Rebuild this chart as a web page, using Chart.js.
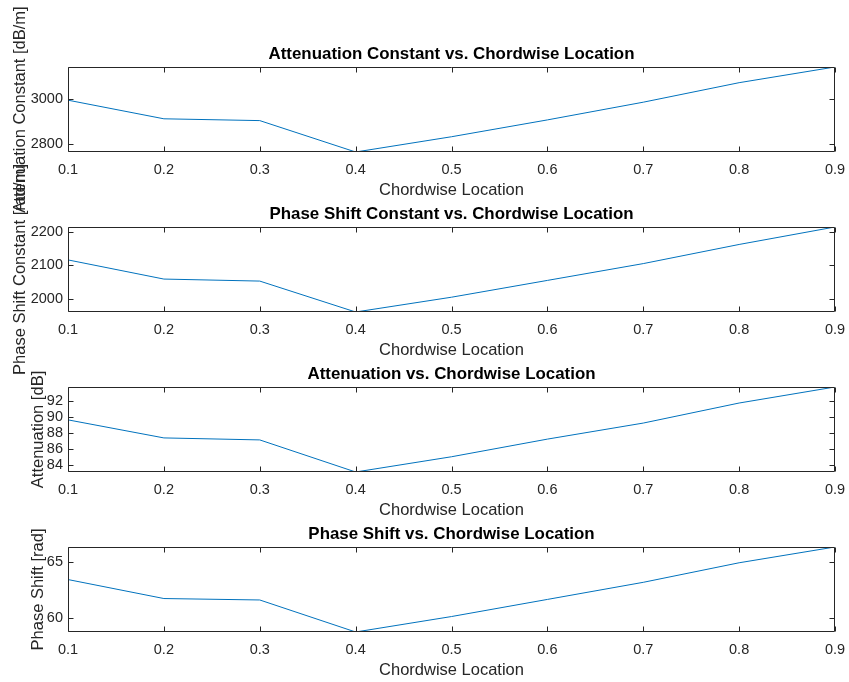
<!DOCTYPE html>
<html>
<head>
<meta charset="utf-8">
<script src="https://cdn.jsdelivr.net/npm/chart.js@4"></script>
<style>
  body { margin: 0; background: #fff; }
  #wrap { position: relative; width: 849px; height: 682px; background: #fff; }
  #wrap canvas { position: absolute; left: 0; top: 0; }
</style>
</head>
<body>
<div id="wrap">
  <canvas id="c0" width="849" height="682"></canvas>
  <canvas id="c1" width="849" height="682"></canvas>
  <canvas id="c2" width="849" height="682"></canvas>
  <canvas id="c3" width="849" height="682"></canvas>
</div>
<script>
// x positions along the chord
const chordwise = [0.1, 0.2, 0.3, 0.4, 0.5, 0.6, 0.7, 0.8, 0.9];
const xTicks = [0.1, 0.2, 0.3, 0.4, 0.5, 0.6, 0.7, 0.8, 0.9];

// series
const attenuationConstant = [2995, 2912, 2904, 2764, 2832, 2907, 2986, 3073, 3143];
const phaseShiftConstant = [2116, 2059, 2053, 1961, 2005, 2055, 2105, 2162, 2214];
const attenuation = [89.6, 87.35, 87.1, 83.1, 85.0, 87.2, 89.2, 91.7, 93.7];
const phaseShift = [63.45, 61.73, 61.6, 58.7, 60.1, 61.65, 63.2, 64.97, 66.4];

// y tick values per subplot
const yTicksAttConst = [2800, 3000];
const yTicksPhaseConst = [2000, 2100, 2200];
const yTicksAtt = [84, 86, 88, 90, 92];
const yTicksPhase = [60, 65];

const titles = [
    'Attenuation Constant vs. Chordwise Location',
    'Phase Shift Constant vs. Chordwise Location',
    'Attenuation vs. Chordwise Location',
    'Phase Shift vs. Chordwise Location'
];
const yLabels = [
    'Attenuation Constant [dB/m]',
    'Phase Shift Constant [rad/m]',
    'Attenuation [dB]',
    'Phase Shift [rad]'
];
const xLabel = 'Chordwise Location';

const AXIS_COLOR = '#262626';
const LINE_COLOR = '#0072BD';
const PLOT_LEFT = 68, PLOT_RIGHT = 835;
const X_AXIS_H = 48;

Chart.defaults.font.family = '"Liberation Sans", Arial, Helvetica, sans-serif';
Chart.defaults.color = AXIS_COLOR;

// matlab-like box with inward ticks on all four sides
const boxPlugin = {
    id: 'matlabBox',
    afterDraw(chart) {
        const {ctx, chartArea: a, scales} = chart;
        const tl = 5;
        ctx.save();
        ctx.strokeStyle = AXIS_COLOR;
        ctx.lineWidth = 1;
        const L = Math.round(a.left) + 0.5, R = Math.round(a.right) - 0.5;
        const T = Math.round(a.top) + 0.5, B = Math.round(a.bottom) - 0.5;
        ctx.beginPath();
        ctx.rect(L, T, R - L, B - T);
        scales.x.ticks.forEach(t => {
            const px = Math.round(scales.x.getPixelForValue(t.value)) + 0.5;
            ctx.moveTo(px, B); ctx.lineTo(px, B - tl);
            ctx.moveTo(px, T); ctx.lineTo(px, T + tl);
        });
        scales.y.ticks.forEach(t => {
            const py = Math.round(scales.y.getPixelForValue(t.value)) + 0.5;
            ctx.moveTo(L, py); ctx.lineTo(L + tl, py);
            ctx.moveTo(R, py); ctx.lineTo(R - tl, py);
        });
        ctx.stroke();
        ctx.restore();
    }
};

const subplots = [
    {values: attenuationConstant, yTicks: yTicksAttConst, padLeft: 11},
    {values: phaseShiftConstant, yTicks: yTicksPhaseConst, padLeft: 11},
    {values: attenuation, yTicks: yTicksAtt, padLeft: 29},
    {values: phaseShift, yTicks: yTicksPhase, padLeft: 29}
];

subplots.forEach((sp, i) => {
    const top = 67 + 160 * i;
    const bottom = 152 + 160 * i;

    new Chart(document.getElementById('c' + i), {
        type: 'line',
        data: {
            datasets: [{
                data: chordwise.map((x, k) => ({x: x, y: sp.values[k]})),
                borderColor: LINE_COLOR,
                borderWidth: 1,
                pointRadius: 0,
                tension: 0,
                fill: false
            }]
        },
        options: {
            responsive: false,
            animation: false,
            events: [],
            layout: {
                padding: {
                    top: top - 23,
                    left: sp.padLeft,
                    right: 849 - PLOT_RIGHT,
                    bottom: 682 - bottom - X_AXIS_H
                }
            },
            plugins: {
                legend: {display: false},
                tooltip: {enabled: false},
                title: {
                    display: true,
                    fullSize: false,
                    text: titles[i],
                    color: '#000',
                    font: {size: 16.9, weight: 'bold', lineHeight: 1.2},
                    padding: {top: 0, bottom: 2.7}
                }
            },
            scales: {
                x: {
                    type: 'linear',
                    min: 0.1,
                    max: 0.9,
                    grid: {display: false, drawTicks: false},
                    border: {display: false},
                    ticks: {
                        padding: 9,
                        maxRotation: 0,
                        font: {size: 14.5},
                        color: AXIS_COLOR,
                        callback: v => v.toFixed(1)
                    },
                    afterBuildTicks: s => { s.ticks = xTicks.map(v => ({value: v})); },
                    title: {
                        display: true,
                        text: xLabel,
                        color: AXIS_COLOR,
                        font: {size: 16.5, lineHeight: 1.2},
                        padding: 0
                    },
                    afterFit: s => {
                        s.height = X_AXIS_H;
                        s.paddingLeft = 0;
                        s.paddingRight = 0;
                    }
                },
                y: {
                    type: 'linear',
                    min: Math.min(...sp.values),
                    max: Math.max(...sp.values),
                    grid: {display: false, drawTicks: false},
                    border: {display: false},
                    ticks: {
                        padding: 5,
                        font: {size: 14.5},
                        color: AXIS_COLOR,
                        callback: v => String(v)
                    },
                    afterBuildTicks: s => { s.ticks = sp.yTicks.map(v => ({value: v})); },
                    title: {
                        display: true,
                        text: yLabels[i],
                        color: AXIS_COLOR,
                        font: {size: 16.5, lineHeight: 1.2},
                        padding: 0
                    },
                    afterFit: s => {
                        s.width = PLOT_LEFT - sp.padLeft;
                        s.paddingTop = 0;
                        s.paddingBottom = 0;
                    }
                }
            }
        },
        plugins: [boxPlugin]
    });
});
</script>
</body>
</html>
